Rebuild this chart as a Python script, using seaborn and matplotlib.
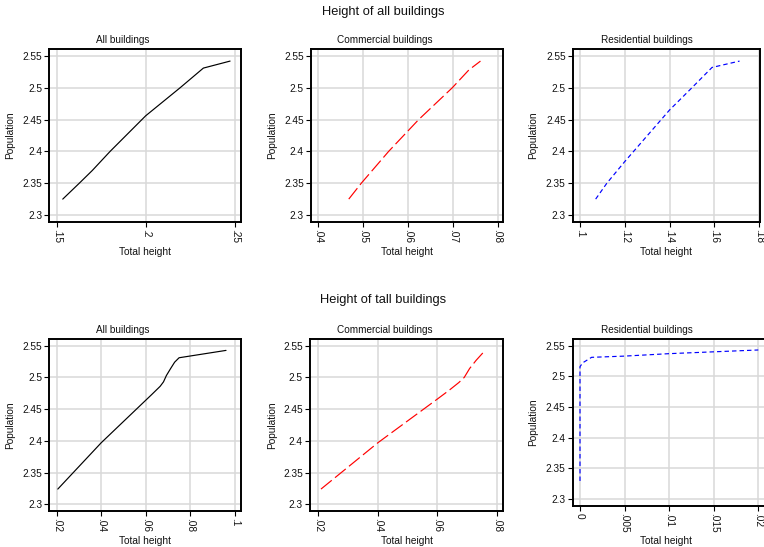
import matplotlib
matplotlib.use("Agg")
import matplotlib.pyplot as plt
import seaborn as sns
import numpy as np

# ---------------- data ----------------
row_titles = ["Height of all buildings", "Height of tall buildings"]
panel_titles = ["All buildings", "Commercial buildings", "Residential buildings"]
x_label = "Total height"
y_label = "Population"

y_ticks = [2.3, 2.35, 2.4, 2.45, 2.5, 2.55]
y_ticklabels = ["2.3", "2.35", "2.4", "2.45", "2.5", "2.55"]

# Row 1 : height of all buildings
all_all_x = [0.1534, 0.1627, 0.1700, 0.1800, 0.2000, 0.2193, 0.2324, 0.2474]
all_all_y = [2.325, 2.350, 2.370, 2.400, 2.456, 2.500, 2.531, 2.542]
all_com_x = [0.0468, 0.0496, 0.0557, 0.0624, 0.0699, 0.0736, 0.0762]
all_com_y = [2.325, 2.350, 2.400, 2.450, 2.500, 2.528, 2.542]
all_res_x = [0.107, 0.112, 0.120, 0.140, 0.150, 0.159, 0.1713]
all_res_y = [2.325, 2.350, 2.384, 2.465, 2.500, 2.532, 2.542]

# Row 2 : height of tall buildings
tall_all_x = [0.0205, 0.040, 0.0627, 0.0665, 0.0680, 0.0693, 0.0712, 0.0730, 0.0750, 0.0961]
tall_all_y = [2.324, 2.397, 2.473, 2.486, 2.493, 2.503, 2.514, 2.524, 2.531, 2.5426]
tall_com_x = [0.0209, 0.040, 0.060, 0.064, 0.0672, 0.0690, 0.0708, 0.0730, 0.0759]
tall_com_y = [2.324, 2.397, 2.466, 2.480, 2.492, 2.500, 2.514, 2.527, 2.542]
tall_res_x = [0.0, 0.0, 0.0003, 0.0013, 0.005, 0.010, 0.015, 0.020]
tall_res_y = [2.329, 2.5157, 2.522, 2.531, 2.533, 2.537, 2.540, 2.543]

x_ticks_row1 = [[0.15, 0.2, 0.25], [0.04, 0.05, 0.06, 0.07, 0.08], [0.1, 0.12, 0.14, 0.16, 0.18]]
x_labels_row1 = [[".15", ".2", ".25"], [".04", ".05", ".06", ".07", ".08"], [".1", ".12", ".14", ".16", ".18"]]
x_ticks_row2 = [[0.02, 0.04, 0.06, 0.08, 0.1], [0.02, 0.04, 0.06, 0.08], [0.0, 0.005, 0.01, 0.015, 0.02]]
x_labels_row2 = [[".02", ".04", ".06", ".08", ".1"], [".02", ".04", ".06", ".08"], ["0", ".005", ".01", ".015", ".02"]]

# ---------------- style ----------------
sns.set_style("white")
plt.rcParams["font.family"] = ["Liberation Sans", "DejaVu Sans"]
plt.rcParams["lines.scale_dashes"] = False

W, H = 764, 547
fig = plt.figure(figsize=(W / 100, H / 100), dpi=100)
fig.patch.set_facecolor("white")

TXT = "#111111"


def fx(px):
    return px / W


def fy(py):
    return 1 - py / H


def lim(v0, p0, v1, p1, e0, e1):
    s = (v1 - v0) / (p1 - p0)
    return v0 + (e0 - p0) * s, v0 + (e1 - p0) * s


# (box left, top, right, bottom) in px; x tick pixel refs; y tick pixel refs
panels = [
    # row 1
    dict(box=(49.3, 49, 241.3, 222), xref=(0.15, 56.7, 0.25, 234.7), yref=(2.55, 56, 2.3, 215),
         x=all_all_x, y=all_all_y, ticks=x_ticks_row1[0], labels=x_labels_row1[0],
         color="black", dash=None, title_x=123, title_y=40, ylab_x=10, xlab_y=252),
    dict(box=(311, 49, 503, 222), xref=(0.04, 318.3, 0.08, 497.5), yref=(2.55, 56, 2.3, 215),
         x=all_com_x, y=all_com_y, ticks=x_ticks_row1[1], labels=x_labels_row1[1],
         color="#ff0000", dash=(10, 3), title_x=384.5, title_y=40, ylab_x=271.7, xlab_y=252),
    dict(box=(572.7, 49, 760, 222), xref=(0.1, 580, 0.18, 759), yref=(2.55, 56, 2.3, 215),
         x=all_res_x, y=all_res_y, ticks=x_ticks_row1[2], labels=x_labels_row1[2],
         color="#0000ff", dash=(3.2, 2.2), title_x=646.7, title_y=40, ylab_x=533.3, xlab_y=252),
    # row 2
    dict(box=(49.3, 339, 241.3, 510.7), xref=(0.02, 56.7, 0.1, 234.7), yref=(2.55, 345.7, 2.3, 504.3),
         x=tall_all_x, y=tall_all_y, ticks=x_ticks_row2[0], labels=x_labels_row2[0],
         color="black", dash=None, title_x=123, title_y=330, ylab_x=10, xlab_y=541),
    dict(box=(310, 339, 503, 510.7), xref=(0.02, 318.3, 0.08, 497), yref=(2.55, 345.7, 2.3, 504.3),
         x=tall_com_x, y=tall_com_y, ticks=x_ticks_row2[1], labels=x_labels_row2[1],
         color="#ff0000", dash=(10, 3), title_x=384.5, title_y=330, ylab_x=271.7, xlab_y=541),
    dict(box=(572.5, 339, 768, 505.7), xref=(0.0, 580, 0.02, 758.3), yref=(2.55, 345.7, 2.3, 498.7),
         x=tall_res_x, y=tall_res_y, ticks=x_ticks_row2[2], labels=x_labels_row2[2],
         color="#0000ff", dash=(3.2, 2.2), title_x=646.7, title_y=330, ylab_x=533.3, xlab_y=541),
]

for i, p in enumerate(panels):
    l, t, r, b = p["box"]
    ax = fig.add_axes([fx(l), fy(b), (r - l) / W, (b - t) / H])
    ax.set_facecolor("white")
    sns.lineplot(x=p["x"], y=p["y"], ax=ax, color=p["color"], estimator=None,
                 sort=False, linewidth=0.85, zorder=3)
    if p["dash"] is not None:
        ax.lines[-1].set_dashes(p["dash"])
    ax.set_xlim(*lim(p["xref"][0], p["xref"][1], p["xref"][2], p["xref"][3], l, r))
    ax.set_ylim(*lim(p["yref"][0], p["yref"][1], p["yref"][2], p["yref"][3], b, t))
    ax.set_xticks(p["ticks"])
    ax.set_xticklabels(p["labels"], rotation=-90, va="top", ha="center")
    ax.set_yticks(y_ticks)
    ax.set_yticklabels(y_ticklabels)
    ax.grid(True, color="#d9d9d9", linewidth=1.1, zorder=0)
    ax.set_axisbelow(True)
    for s in ax.spines.values():
        s.set_visible(True)
        s.set_color("black")
        s.set_linewidth(1.4)
    ax.tick_params(axis="both", which="major", direction="out", length=3.6, width=0.8,
                   color="black", labelsize=7.3, labelcolor=TXT, pad=1.5,
                   bottom=True, left=True)
    ax.set_xlabel("")
    ax.set_ylabel("")
    fig.text(fx(p["title_x"]), fy(p["title_y"]), panel_titles[i % 3], ha="center", va="center",
             fontsize=7.2, color=TXT)
    fig.text(fx((l + min(r, 760)) / 2 if i % 3 == 2 else (l + r) / 2), fy(p["xlab_y"]), x_label,
             ha="center", va="center", fontsize=7.3, color=TXT)
    fig.text(fx(p["ylab_x"]), fy((t + b) / 2), y_label, ha="center", va="center",
             rotation=90, fontsize=7.3, color=TXT)

fig.text(fx(383), fy(12), row_titles[0], ha="center", va="center", fontsize=9.3, color=TXT)
fig.text(fx(383), fy(300), row_titles[1], ha="center", va="center", fontsize=9.3, color=TXT)

fig.savefig("out.png", dpi=100, facecolor="white")
